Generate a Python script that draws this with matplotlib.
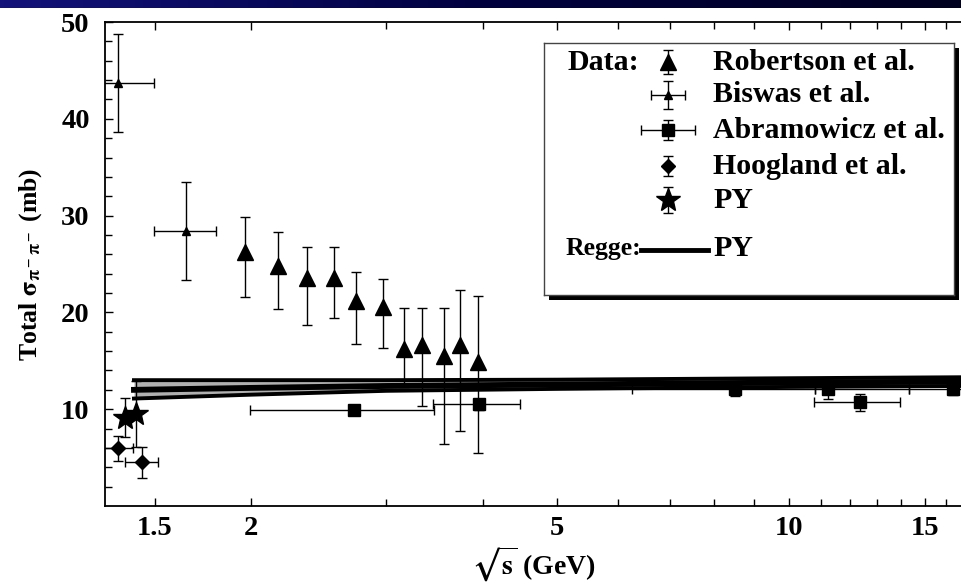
import numpy as np
import matplotlib
matplotlib.use('Agg')
import matplotlib.pyplot as plt
from matplotlib.patches import Rectangle
from matplotlib.ticker import FixedLocator, NullFormatter

plt.rcParams['font.family'] = ['Liberation Serif', 'DejaVu Serif']
plt.rcParams['font.weight'] = 'bold'
plt.rcParams['axes.labelweight'] = 'bold'
plt.rcParams['mathtext.fontset'] = 'stix'
plt.rcParams['mathtext.default'] = 'bf'

# Robertson et al. (big triangles)
rob_x = [1.966, 2.168, 2.368, 2.568, 2.740, 2.967, 3.162, 3.334, 3.567, 3.738, 3.942]
rob_y = [26.2, 24.8, 23.6, 23.6, 21.2, 20.6, 16.2, 16.6, 15.5, 16.6, 14.9]
rob_eup = [3.7, 3.5, 3.2, 3.2, 3.0, 2.9, 4.3, 3.9, 5.0, 5.7, 6.8]
rob_edn = [4.6, 4.4, 4.9, 4.2, 4.5, 4.3, 3.9, 6.3, 9.1, 8.9, 9.4]

# Biswas et al. (small triangles)
bis_x = [1.345, 1.648]
bis_xerr = [0.152, 0.153]
bis_y = [43.7, 28.4]
bis_yerr = [5.1, 5.1]

# Abramowicz et al. (squares)
abr_x = [2.726, 3.961, 8.51, 11.25, 12.37, 16.33]
abr_y = [9.9, 10.5, 12.06, 12.06, 10.7, 12.06]
abr_xlo = [0.73, 0.51, 2.26, 0.44, 1.58, 2.0]
abr_xhi = [0.73, 0.51, 2.29, 3.05, 1.58, 2.0]
abr_yerr = [0.4, 0.6, 0.7, 1.0, 0.85, 0.6]

# Hoogland et al. (diamonds)
hoo_x = [1.346, 1.443]
hoo_xerr = [0.06, 0.072]
hoo_y = [5.95, 4.5]
hoo_yerr = [1.25, 1.6]

# PY (stars)
py_x = [1.373, 1.419]
py_y = [9.14, 9.5]
py_yerr = [2.0, 3.4]

# Regge PY band
regge_x = [1.41, 2.0, 3.0, 5.0, 10.0, 16.7]
regge_up = [13.0, 13.0, 13.0, 13.05, 13.2, 13.3]
regge_mid = [12.0, 12.2, 12.4, 12.55, 12.75, 12.85]
regge_lo = [11.1, 11.5, 11.9, 12.1, 12.3, 12.4]

W, H = 961, 587
fig = plt.figure(figsize=(W / 100, H / 100), dpi=100)

# dark blue slide header bar
bar = fig.add_axes([0, 1 - 8 / H, 1, 8 / H])
grad = np.linspace(0, 1, 256).reshape(1, -1)
bar.imshow(grad, aspect='auto', cmap=matplotlib.colors.LinearSegmentedColormap.from_list(
    'hdr', ['#12127a', '#000040', '#000020']))
bar.axis('off')

ax = fig.add_axes([105 / W, (H - 506) / H, (W - 105) / W, (506 - 22) / H])
ax.set_xscale('log')
ax.set_xlim(1.293, 16.73)
ax.set_ylim(0, 50)

eb = dict(fmt='none', ecolor='black', elinewidth=1.0, capsize=3.5, capthick=1.0, zorder=3)

ax.fill_between(regge_x, regge_lo, regge_up, color='#b0b0b0', zorder=2, lw=0)
ax.plot(regge_x, regge_up, color='black', lw=2.8, zorder=2)
ax.plot(regge_x, regge_lo, color='black', lw=2.8, zorder=2)
ax.plot(regge_x, regge_mid, color='black', lw=4.2, zorder=2)

ax.errorbar(rob_x, rob_y, yerr=[rob_edn, rob_eup], **eb)
ax.plot(rob_x, rob_y, '^', color='black', ms=12, zorder=4)

ax.errorbar(bis_x, bis_y, xerr=bis_xerr, yerr=bis_yerr, **eb)
ax.plot(bis_x, bis_y, '^', color='black', ms=6, zorder=4)

ax.errorbar(abr_x, abr_y, xerr=[abr_xlo, abr_xhi], yerr=abr_yerr, **eb)
ax.plot(abr_x, abr_y, 's', color='black', ms=8, zorder=4)

ax.errorbar(hoo_x, hoo_y, xerr=hoo_xerr, yerr=hoo_yerr, **eb)
ax.plot(hoo_x, hoo_y, 'D', color='black', ms=7.5, zorder=4)

ax.errorbar(py_x, py_y, yerr=py_yerr, **eb)
ax.plot(py_x, py_y, '*', color='black', ms=18, zorder=4)

# ticks
ax.xaxis.set_major_locator(FixedLocator([1.5, 2, 5, 10, 15]))
ax.xaxis.set_minor_locator(FixedLocator([3, 4, 6, 7, 8, 9, 11, 12, 13, 14, 16]))
ax.xaxis.set_minor_formatter(NullFormatter())
ax.set_xticklabels(['1.5', '2', '5', '10', '15'])
ax.set_yticks([10, 20, 30, 40, 50])
ax.yaxis.set_minor_locator(FixedLocator(np.arange(2, 50, 2)))
ax.tick_params(which='both', direction='in', top=True, right=False, width=1.0, labelsize=20.5)
ax.tick_params(which='major', length=6)
ax.tick_params(which='minor', length=5)
ax.tick_params(axis='x', pad=7)
ax.tick_params(axis='y', pad=11)
ax.spines['right'].set_visible(False)
for s in ['left', 'bottom', 'top']:
    ax.spines[s].set_linewidth(1.3)

ax.set_xlabel(r'$\sqrt{\mathrm{s}}$ (GeV)', fontsize=20, labelpad=3)
ax.set_ylabel(r'Total $\sigma_{\pi^-\pi^-}$ (mb)', fontsize=18.5, labelpad=12)

# legend box with shadow
lx0, ly0, lw_, lh_ = 544, 43, 410, 252
fig.patches.append(Rectangle(((lx0 + 5) / W, (H - ly0 - lh_ - 5) / H), lw_ / W, lh_ / H,
                             transform=fig.transFigure, facecolor='black', edgecolor='none', zorder=4))
leg = fig.add_axes([lx0 / W, (H - ly0 - lh_) / H, lw_ / W, lh_ / H], zorder=5)
leg.set_xlim(0, lw_)
leg.set_ylim(lh_, 0)
leg.set_xticks([])
leg.set_yticks([])
for s in leg.spines.values():
    s.set_linewidth(1.0)
    s.set_color('#444444')

mx, tx = 124, 169
rows = [19, 52, 87, 123, 157]
names = ['Robertson et al.', 'Biswas et al.', 'Abramowicz et al.', 'Hoogland et al.', 'PY']
lfs = 21.5
leg.text(24, rows[0], 'Data:', fontsize=lfs, va='center', ha='left')
for r, n in zip(rows, names):
    leg.text(tx, r, n, fontsize=lfs, va='center', ha='left')

leb = dict(fmt='none', ecolor='black', elinewidth=1.0, capsize=3.5, capthick=1.0)
leg.errorbar([mx], [rows[0]], yerr=[12], **leb)
leg.plot([mx], [rows[0]], '^', color='black', ms=12)
leg.errorbar([mx], [rows[1]], xerr=[17], yerr=[14], **leb)
leg.plot([mx], [rows[1]], '^', color='black', ms=6)
leg.errorbar([mx], [rows[2]], xerr=[27], yerr=[10], **leb)
leg.plot([mx], [rows[2]], 's', color='black', ms=8)
leg.errorbar([mx], [rows[3]], yerr=[10], **leb)
leg.plot([mx], [rows[3]], 'D', color='black', ms=7.5)
leg.errorbar([mx], [rows[4]], yerr=[13], **leb)
leg.plot([mx], [rows[4]], '*', color='black', ms=18)

leg.text(22, 205, 'Regge:', fontsize=18.5, va='center', ha='left')
leg.plot([97, 164], [207, 207], color='black', lw=3.5)
leg.text(tx, 205, 'PY', fontsize=lfs, va='center', ha='left')

fig.savefig('out.png', dpi=100)
